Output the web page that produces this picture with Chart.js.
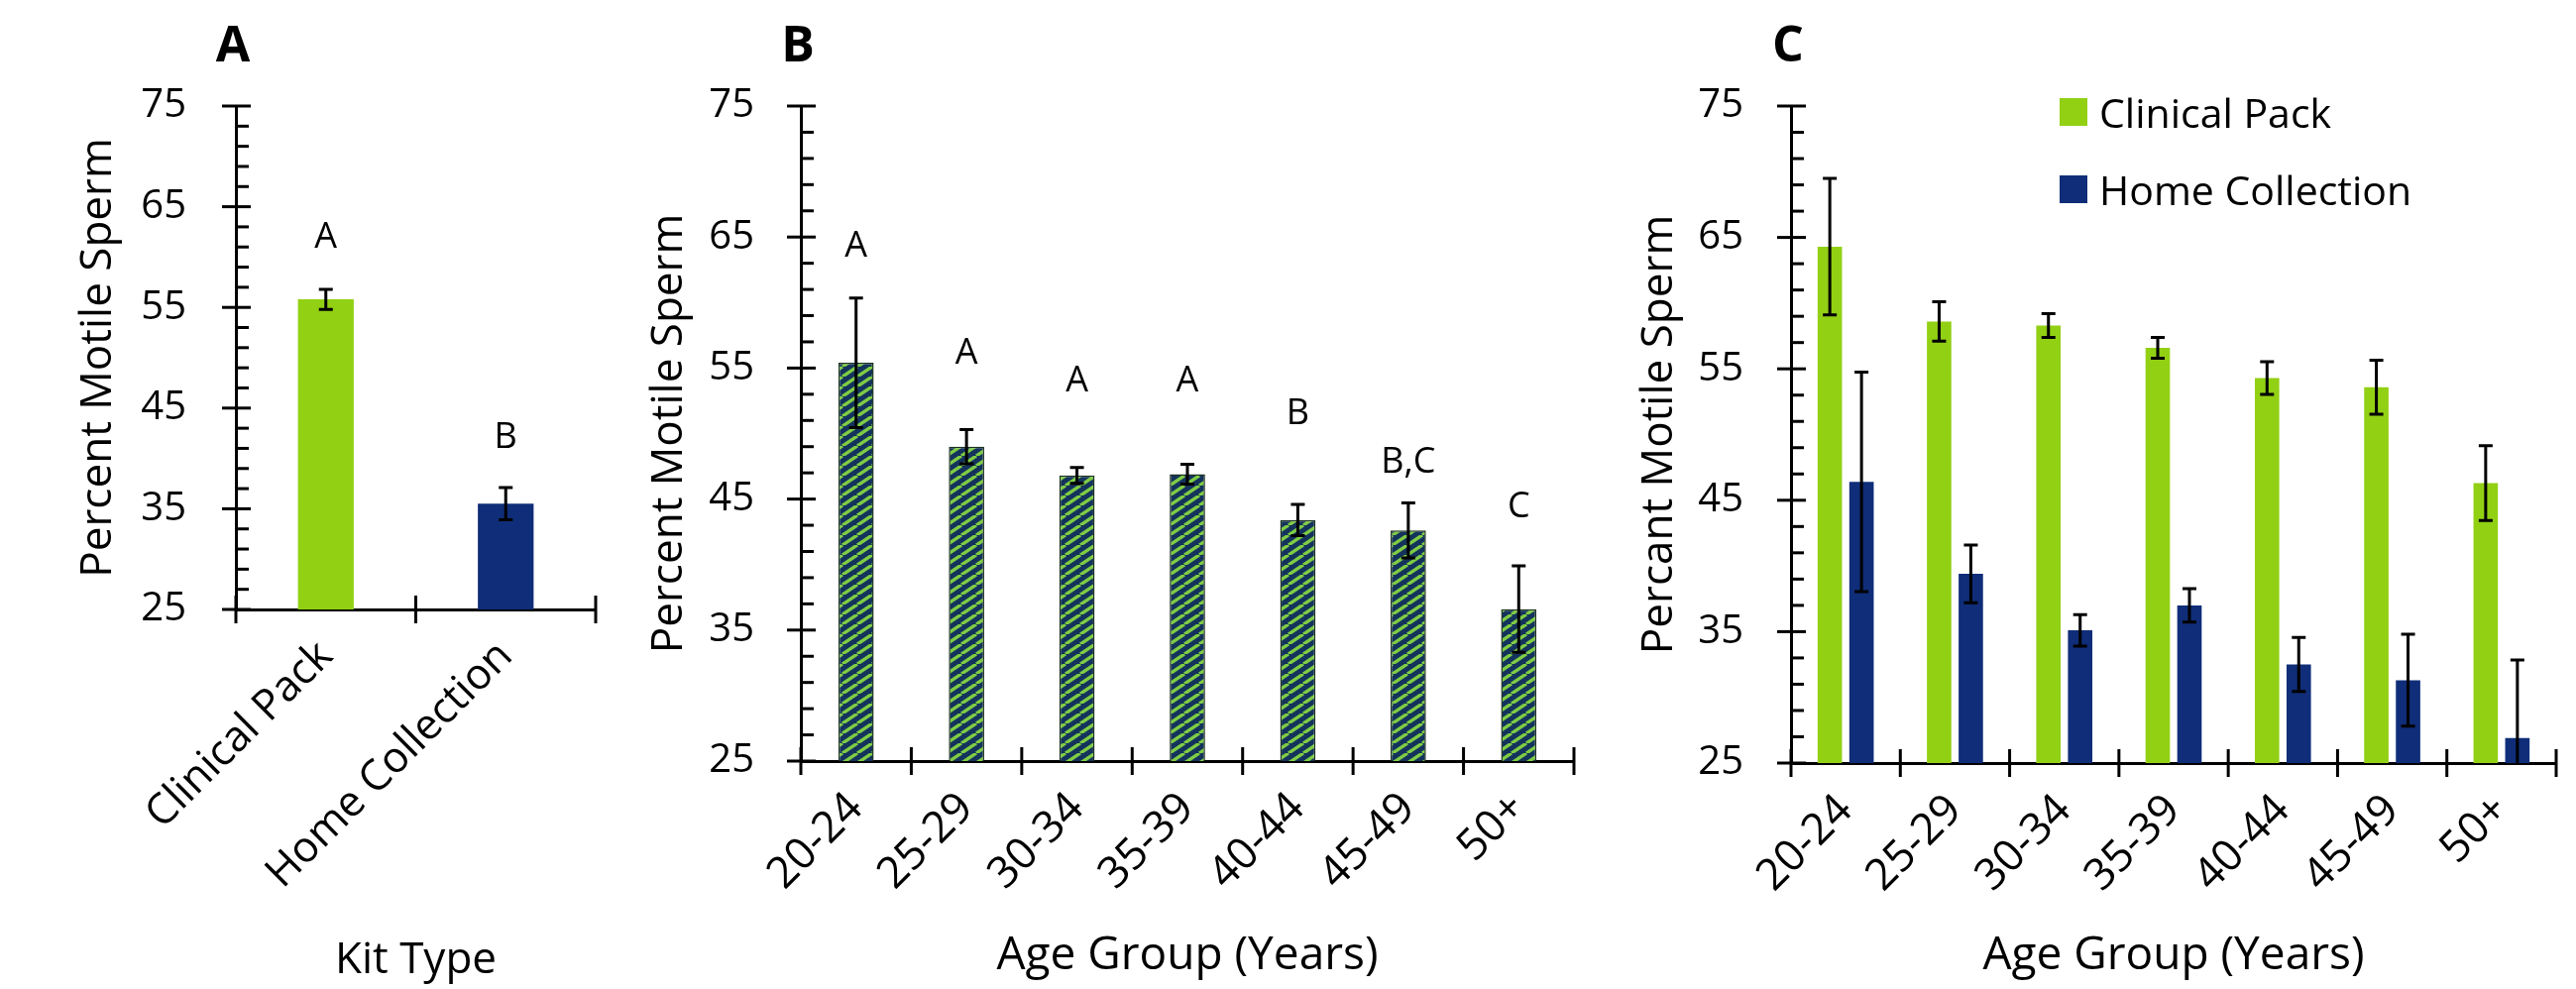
<!DOCTYPE html>
<html>
<head>
<meta charset="utf-8">
<title>Percent motile sperm by kit type and age group</title>
<script src="https://cdn.jsdelivr.net/npm/chart.js@4.4.1/dist/chart.umd.min.js"></script>
<style>
  html, body { margin: 0; padding: 0; background: #fff; }
  #wrap { position: relative; width: 2599px; height: 998px; overflow: hidden; }
  #wrap canvas { position: absolute; top: 0; }
  #chartA { left: 0; }
  #chartB { left: 640px; }
  #chartC { left: 1620px; }
  #legendC { position: absolute; left: 2078px; top: 74px; font-family: "Open Sans", sans-serif; font-size: 41px; color: #000; }
  #legendC .item { display: flex; align-items: center; height: 78px; white-space: nowrap; }
  #legendC .box { width: 28px; height: 28px; margin-right: 12px; }
</style>
</head>
<body>
<div id="wrap">
  <canvas id="chartA" width="640" height="998"></canvas>
  <canvas id="chartB" width="980" height="998"></canvas>
  <canvas id="chartC" width="979" height="998"></canvas>
  <div id="legendC"></div>
</div>
<script>
// Panel A: kit type
const kitTypes = ["Clinical Pack", "Home Collection"];
const kitMeans = [55.8, 35.5];
const kitErrors = [1.0, 1.6];
const kitLetters = ["A", "B"];
const kitLetterY = [61.9, 42.1];

// Panel B: age group, all kits
const ageGroups = ["20-24", "25-29", "30-34", "35-39", "40-44", "45-49", "50+"];
const ageMeans = [55.4, 49.0, 46.8, 46.9, 43.4, 42.6, 36.6];
const ageErrors = [4.95, 1.3, 0.6, 0.75, 1.2, 2.1, 3.3];
const ageLetters = ["A", "A", "A", "A", "B", "B,C", "C"];
const ageLetterY = [64.3, 56.1, 54.0, 54.0, 51.5, 47.8, 44.4];

// Panel C: age group split by kit
const clinicalByAge = [64.3, 58.6, 58.3, 56.6, 54.3, 53.6, 46.3];
const clinicalByAgeErr = [5.2, 1.5, 0.9, 0.8, 1.25, 2.05, 2.85];
const homeByAge = [46.4, 39.4, 35.1, 37.0, 32.5, 31.3, 26.9];
const homeByAgeErr = [8.35, 2.2, 1.2, 1.27, 2.05, 3.5, 5.95];

// y axis: 25..75, labels every 10, minor marks every 2
const yTickLabels = [25, 35, 45, 55, 65, 75];
const yMinorStep = 2;

const green = "#92d014";
const navy = "#0f2d78";
const FONT = "'Open Sans', sans-serif";

Chart.defaults.font.family = FONT;
Chart.defaults.color = "#000";
Chart.defaults.animation = false;

// striped fill for panel B
const stripeFill = () => {
  const c = document.createElement("canvas");
  c.width = 15; c.height = 10;
  const g = c.getContext("2d");
  g.fillStyle = "#14335c";
  g.fillRect(0, 0, 15, 10);
  g.strokeStyle = "#7fcc45";
  g.lineWidth = 3.4;
  g.beginPath();
  for (let k = -1; k <= 1; k++) {
    g.moveTo(k * 15, 10);
    g.lineTo(k * 15 + 15, 0);
  }
  g.stroke();
  return g.createPattern(c, "repeat");
};

// error bars, axis tick marks, panel letter and significance letters
const decorPlugin = {
  id: "decor",
  afterDraw(chart, args, opts) {
    const { ctx, chartArea, scales: { x, y } } = chart;
    ctx.save();
    ctx.strokeStyle = "#000";
    ctx.lineWidth = 3;

    chart.data.datasets.forEach((ds, i) => {
      chart.getDatasetMeta(i).data.forEach((bar, j) => {
        const top = y.getPixelForValue(ds.data[j] + ds.errors[j]);
        const bot = y.getPixelForValue(Math.max(ds.data[j] - ds.errors[j], y.min));
        ctx.beginPath();
        ctx.moveTo(bar.x, top); ctx.lineTo(bar.x, bot);
        ctx.moveTo(bar.x - 7, top); ctx.lineTo(bar.x + 7, top);
        if (ds.data[j] - ds.errors[j] > y.min) {
          ctx.moveTo(bar.x - 7, bot); ctx.lineTo(bar.x + 7, bot);
        }
        ctx.stroke();
      });
    });

    // y tick marks: majors cross the axis, minors point inward
    const ax = chartArea.left;
    for (let v = y.min; v <= y.max; v += yMinorStep) {
      const py = y.getPixelForValue(v);
      const major = yTickLabels.includes(v);
      ctx.beginPath();
      ctx.moveTo(ax - (major ? 14 : 0), py);
      ctx.lineTo(ax + (major ? 15 : 13), py);
      ctx.stroke();
    }
    // x tick marks at category edges
    const ay = chartArea.bottom;
    for (let i = 0; i <= chart.data.labels.length; i++) {
      const px = x.getPixelForValue(i - 0.5);
      ctx.beginPath();
      ctx.moveTo(px, ay - 14);
      ctx.lineTo(px, ay + 14);
      ctx.stroke();
    }

    ctx.fillStyle = "#000";
    ctx.textAlign = "center";
    ctx.textBaseline = "middle";
    ctx.font = "bold 50px " + FONT;
    ctx.fillText(opts.panel, chartArea.left - 3, 48);

    if (opts.letters) {
      ctx.font = "36px " + FONT;
      chart.getDatasetMeta(0).data.forEach((bar, j) => {
        ctx.fillText(opts.letters[j], bar.x, y.getPixelForValue(opts.letterY[j]));
      });
    }
    ctx.restore();
  }
};

const makeOptions = (box, o) => ({
  responsive: false,
  layout: { padding: { top: 107, right: box.right, left: 0, bottom: 0 } },
  plugins: {
    legend: { display: false },
    tooltip: { enabled: false },
    decor: { panel: o.panel, letters: o.letters, letterY: o.letterY }
  },
  scales: {
    x: {
      grid: { display: false, drawTicks: false },
      border: { color: "#000", width: 3 },
      ticks: { autoSkip: false, minRotation: 45, maxRotation: 45, padding: o.xPad, font: { size: o.xSize } },
      title: { display: true, text: o.xTitle, font: { size: o.xTitleSize }, padding: { bottom: o.xTitlePad, top: 0 } },
      afterFit: s => { s.height = box.xHeight; }
    },
    y: {
      min: yTickLabels[0],
      max: yTickLabels[yTickLabels.length - 1],
      grid: { display: false, drawTicks: false },
      border: { color: "#000", width: 3 },
      ticks: { stepSize: yTickLabels[1] - yTickLabels[0], padding: o.yPad, font: { size: 40 } },
      title: { display: true, text: o.yTitle, font: { size: o.yTitleSize }, padding: { top: o.yTitlePad, bottom: 0 } },
      afterFit: s => { s.width = box.yWidth; }
    }
  }
});

new Chart(document.getElementById("chartA"), {
  type: "bar",
  data: {
    labels: kitTypes,
    datasets: [{
      data: kitMeans,
      errors: kitErrors,
      backgroundColor: [green, navy],
      categoryPercentage: 1,
      barPercentage: 0.31
    }]
  },
  options: makeOptions(
    { right: 39, xHeight: 383, yWidth: 238 },
    { panel: "A", letters: kitLetters, letterY: kitLetterY,
      xTitle: "Kit Type", xTitleSize: 44, xTitlePad: 2, xSize: 43, xPad: 22,
      yTitle: "Percent Motile Sperm", yTitleSize: 44, yTitlePad: 73, yPad: 50 }
  ),
  plugins: [decorPlugin]
});

new Chart(document.getElementById("chartB"), {
  type: "bar",
  data: {
    labels: ageGroups,
    datasets: [{
      data: ageMeans,
      errors: ageErrors,
      backgroundColor: stripeFill(),
      borderColor: "#1d3322",
      borderWidth: 1.5,
      categoryPercentage: 1,
      barPercentage: 0.32
    }]
  },
  options: makeOptions(
    { right: 32, xHeight: 230, yWidth: 168 },
    { panel: "B", letters: ageLetters, letterY: ageLetterY,
      xTitle: "Age Group (Years)", xTitleSize: 46, xTitlePad: 6, xSize: 44, xPad: 22,
      yTitle: "Percent Motile Sperm", yTitleSize: 44, yTitlePad: 9, yPad: 47 }
  ),
  plugins: [decorPlugin]
});

const chartC = new Chart(document.getElementById("chartC"), {
  type: "bar",
  data: {
    labels: ageGroups,
    datasets: [
      { label: "Clinical Pack", data: clinicalByAge, errors: clinicalByAgeErr, backgroundColor: green,
        categoryPercentage: 0.58, barPercentage: 0.77 },
      { label: "Home Collection", data: homeByAge, errors: homeByAgeErr, backgroundColor: navy,
        categoryPercentage: 0.58, barPercentage: 0.77 }
    ]
  },
  options: makeOptions(
    { right: 20, xHeight: 228, yWidth: 187 },
    { panel: "C",
      xTitle: "Age Group (Years)", xTitleSize: 46, xTitlePad: 6, xSize: 44, xPad: 22,
      yTitle: "Percant Motile Sperm", yTitleSize: 44, yTitlePad: 28, yPad: 48 }
  ),
  plugins: [decorPlugin]
});

// legend for panel C built from its datasets
const legendEl = document.getElementById("legendC");
chartC.data.datasets.forEach(ds => {
  const item = document.createElement("div");
  item.className = "item";
  const box = document.createElement("span");
  box.className = "box";
  box.style.background = ds.backgroundColor;
  const text = document.createElement("span");
  text.textContent = ds.label;
  item.appendChild(box);
  item.appendChild(text);
  legendEl.appendChild(item);
});
</script>
</body>
</html>
